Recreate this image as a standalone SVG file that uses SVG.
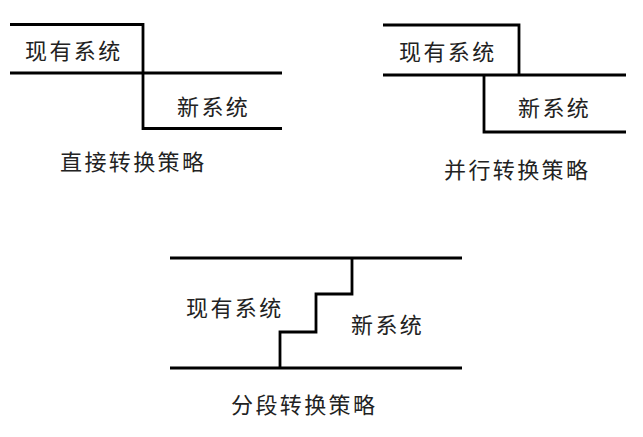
<svg xmlns="http://www.w3.org/2000/svg" width="643" height="437" viewBox="0 0 643 437">
<style>
.ln{fill:none;stroke:#000;stroke-width:2.8;stroke-linejoin:miter;stroke-linecap:butt}
.t{font-family:"Noto Sans CJK SC","Noto Sans",sans-serif;font-size:22px;fill:#222;letter-spacing:2.4px}
</style>
<rect width="643" height="437" fill="#fff"/>
<g id="connectors">
<path class="ln" d="M10,24.5 H143 V128.5 H282"/>
<path class="ln" d="M10,73 H282"/>
<path class="ln" d="M383,25 H519 V75"/>
<path class="ln" d="M383,75 H626"/>
<path class="ln" d="M484,75 V132 H626"/>
<path class="ln" d="M170,258 H462"/>
<path class="ln" d="M170,368 H462"/>
<path class="ln" d="M352,258 V294 H316 V332 H280 V368"/>
</g>
<g id="direct">
<text class="t" x="25" y="59">现有系统</text>
<text class="t" x="177" y="115">新系统</text>
<text class="t" x="60" y="170">直接转换策略</text>
</g>
<g id="parallel">
<text class="t" x="399" y="60">现有系统</text>
<text class="t" x="518" y="116">新系统</text>
<text class="t" x="444" y="178">并行转换策略</text>
</g>
<g id="phased">
<text class="t" x="186" y="316">现有系统</text>
<text class="t" x="351" y="333">新系统</text>
<text class="t" x="231" y="413">分段转换策略</text>
</g>
</svg>
